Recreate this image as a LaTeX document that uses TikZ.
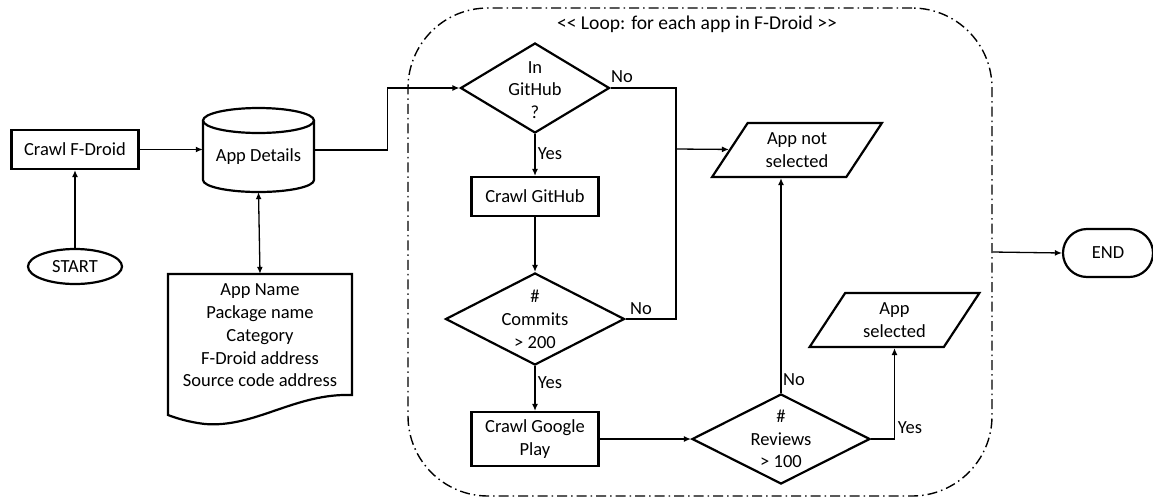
\documentclass[tikz,border=0pt]{standalone}
\usepackage{fontspec}
\setmainfont{Carlito}
\usetikzlibrary{shapes.geometric,arrows.meta,calc}
\begin{document}
\begin{tikzpicture}[x=1pt,y=-1pt,
  font=\fontsize{18.5}{22.8}\selectfont,
  shp/.style={draw,line width=2.2pt},
  box/.style={shp,rectangle,minimum width=127pt,align=center,inner sep=0},
  dia/.style={shp,diamond,inner sep=0},
  par/.style={shp,trapezium,trapezium left angle=57,trapezium right angle=123,trapezium stretches=true,minimum height=54pt,minimum width=170pt,inner sep=0,align=center},
  con/.style={line width=1.3pt},
  arr/.style={con,-{Latex[length=7pt,width=6pt]}},
  lbl/.style={inner sep=0},
  txt/.style={align=center,inner sep=0}]
\useasboundingbox (0,0) rectangle (1153,499);

% loop container
\node[draw,line width=1.4pt,dash pattern=on 10pt off 4pt on 1.5pt off 4pt,rounded corners=80pt,minimum width=584pt,minimum height=488pt,inner sep=0] (loop) at (700,252) {};
\node[txt,font=\fontsize{19.6}{22.8}\selectfont] (looplbl) at (697,24) {<{}< Loop: for each app in F-Droid >{}>};

% left part
\node[box,minimum height=39pt] (crawl) at (75,149.5) {Crawl F-Droid};
\node[shp,ellipse,minimum width=94pt,minimum height=35pt,inner sep=0] (start) at (75,266.5) {START};

% cylinder
\draw[shp] (258.5,120.5) ellipse [x radius=55.5, y radius=12.5];
\draw[shp] (203,120.5) -- (203,180) arc[start angle=180,end angle=0,x radius=55.5,y radius=12] -- (314,120.5);
\node[minimum width=111pt,minimum height=84pt,inner sep=0] (db) at (258.5,150) {};
\node[txt] (dbt) at (258.5,157) {App Details};

% document
\draw[shp,line join=miter] (168,274) -- (352,274) -- (352,395) .. controls (295,393) and (255,428) .. (205,424) .. controls (188,422) and (176,418) .. (168,415) -- cycle;
\node[minimum width=184pt,minimum height=141pt,inner sep=0] (doc) at (260,344.5) {};
\node[txt] (doct) at (260,335.5) {App Name\\Package name\\Category\\F-Droid address\\Source code address};

% loop contents
\node[dia,minimum width=149pt,minimum height=90pt] (d1) at (535,88) {};
\node[txt] (d1t) at (535,90) {In\\GitHub\\?};
\node[box,minimum height=39pt] (gh) at (535,196.5) {Crawl GitHub};
\node[dia,minimum width=179pt,minimum height=92pt] (d2) at (535,319) {};
\node[txt] (d2t) at (535,319.5) {\#\\Commits\\> 200};
\node[box,minimum height=54pt] (gp) at (535,439) {Crawl Google\\Play};
\node[dia,minimum width=178pt,minimum height=90pt] (d3) at (781,439) {};
\node[txt] (d3t) at (781,439) {\#\\Reviews\\> 100};
\node[par] (nsel) at (797,150) {App not\\selected};
\node[par] (sel) at (894.5,320) {App\\selected};
\node[shp,rounded corners=24pt,minimum width=90pt,minimum height=48pt,inner sep=0] (stop) at (1108,253) {END};

% connectors
\draw[arr] (start.north) -- (crawl.south);
\draw[arr] (crawl.east) -- (crawl.east -| db.west);
\draw[arr,{Latex[length=7pt,width=6pt]}-{Latex[length=7pt,width=6pt]}] (db.south) -- (doc.north);
\draw[arr] (db.east) -- ++(73,0) |- (d1.west);
\draw[arr] (d1.south) -- (gh.north);
\draw[arr] (gh.south) -- (d2.north);
\draw[arr] (d2.south) -- (gp.north);
\draw[arr] (gp.east) -- (d3.west);
\coordinate (j) at (676,149);
\draw[con] (d1.east) -| (j);
\draw[con] (d2.east) -| (j);
\draw[arr] (j) -- (nsel);
\draw[arr] (d3.north) -- (d3.north |- nsel.south);
\draw[arr] (d3.east) -| (sel.south);
\draw[arr] (loop.east) -- (stop.west);

% labels
\node[lbl] (no1) at (622,77) {No};
\node[lbl] (yes1) at (550,154) {Yes};
\node[lbl] (no2) at (641,309) {No};
\node[lbl] (yes2) at (550,383) {Yes};
\node[lbl] (no3) at (794,380) {No};
\node[lbl] (yes3) at (910,428) {Yes};
\end{tikzpicture}
\end{document}
